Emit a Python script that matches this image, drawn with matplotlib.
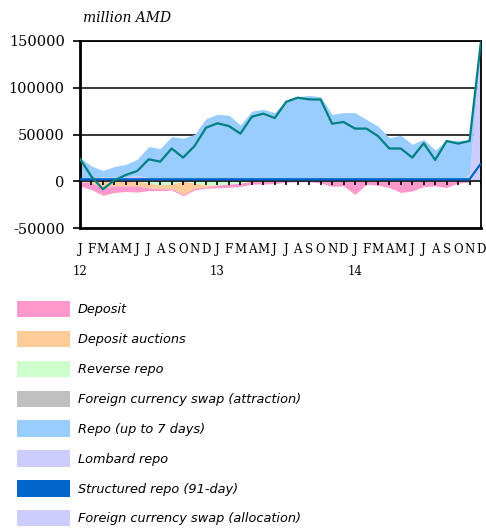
import numpy as np
import matplotlib
matplotlib.use("Agg")
import matplotlib.pyplot as plt
from matplotlib.patches import Patch
from matplotlib.transforms import offset_copy

# monthly operations, Jan 2012 - Dec 2014 (million AMD)
months = ["J", "F", "M", "A", "M", "J", "J", "A", "S", "O", "N", "D"] * 3
years = ["12", "13", "14"]

# liquidity absorption (negative)
deposit = [-5000, -7000, -8000, -7000, -6000, -6500, -3000, -2000, -1500, -1500, -1800, -1500,
           -3000, -3500, -3500, -3000, -3000, -2500, -1000, -500, -500, -2000, -5500, -5000,
           -14000, -3200, -4300, -6700, -12000, -10400, -5700, -5000, -6700, -2000, -700, 0]
deposit_auctions = [0, -2000, -7000, -5000, -5000, -5000, -5000, -4000, -5000, -14000, -5500, -2000,
                    0, 0, 0, 0, 0, 0, 0, 0, 0, 0, 0, 0,
                    0, 0, 0, 0, 0, 0, 0, 0, 0, 0, 0, 0]
reverse_repo = [0, 0, 0, 0, 0, 0, -2000, -4000, -3000, 0, -2000, -4000,
                -4000, -3000, -2000, 0, 0, 0, 0, 0, 0, 0, 0, 0,
                0, 0, 0, 0, 0, 0, 0, 0, 0, 0, 0, 0]
fx_swap_attraction = [0] * 36

# liquidity provision (positive)
structured_repo = [0] * 35 + [17000]
lombard_repo = [1000, 4000, 4500, 4500, 5000, 6000, 4000, 1500, 0, 0, 0, 0,
                0, 0, 0, 0, 0, 1500, 0, 0, 0, 0, 0, 0,
                0, 1500, 1000, 0, 0, 0, 0, 0, 0, 0, 8000, 8000]
fx_swap_allocation = [0] * 35 + [125000]
repo = [24000, 12300, 7200, 11200, 13100, 17500, 33000, 33500, 47700, 46000, 50200, 67000,
        71600, 70600, 60200, 75100, 76900, 71900, 86800, 90400, 91800, 90400, 71600, 73400,
        73400, 64700, 58000, 46600, 49100, 39500, 44900, 33400, 43800, 43800, 35800, 0]

# net position line
net = [24000, 5000, -8500, 1000, 6700, 11000, 23500, 21000, 35000, 25300, 37700, 57300,
       62000, 59000, 51000, 69000, 72300, 67600, 85000, 89400, 87600, 87400, 61600, 63400,
       56300, 56300, 48400, 35000, 35000, 25300, 40600, 22800, 43100, 40300, 43100, 150000]

colors = {
    "Deposit": "#FF99CC",
    "Deposit auctions": "#FFCC99",
    "Reverse repo": "#CCFFCC",
    "Foreign currency swap (attraction)": "#C0C0C0",
    "Repo (up to 7 days)": "#99CCFF",
    "Lombard repo": "#CCCCFF",
    "Structured repo (91-day)": "#0066CC",
    "Foreign currency swap (allocation)": "#CCCCFF",
}

x = np.arange(len(net))

fig = plt.figure(figsize=(4.86, 5.28), dpi=100)
ax = fig.add_axes([80 / 486, 1 - 228 / 528, 401 / 486, 187 / 528])

# gridlines behind everything
for v in [50000, 100000, 150000]:
    ax.axhline(v, color="black", lw=1.1, zorder=0)

# negatives stack downward from zero
base = np.zeros(len(x))
for name, vals in [("Reverse repo", reverse_repo), ("Deposit auctions", deposit_auctions),
                   ("Foreign currency swap (attraction)", fx_swap_attraction), ("Deposit", deposit)]:
    top = base + np.array(vals, dtype=float)
    ax.fill_between(x, base, top, color=colors[name], lw=0, zorder=1)
    base = top

# positives stack upward
base = np.zeros(len(x))
struct_top = base + np.array(structured_repo, dtype=float)
ax.fill_between(x, base, struct_top, color=colors["Lombard repo"], lw=0, zorder=1)
base = struct_top
for name, vals in [("Lombard repo", lombard_repo),
                   ("Foreign currency swap (allocation)", fx_swap_allocation),
                   ("Repo (up to 7 days)", repo)]:
    top = base + np.array(vals, dtype=float)
    ax.fill_between(x, base, top, color=colors[name], lw=0, zorder=1)
    base = top

ax.axhline(0, color="black", lw=1.1, zorder=2)
shifted = offset_copy(ax.transData, fig=fig, x=0, y=2, units="dots")
ax.plot(x, struct_top, color=colors["Structured repo (91-day)"], lw=1.6, zorder=3,
        transform=shifted, solid_capstyle="butt")

# month tick marks on the zero line
ax.vlines(x[1:], -4500, 0, color="black", lw=1.2, zorder=3)

ax.plot(x, net, color="#008080", lw=1.6, zorder=4)

ax.set_xlim(0, len(x) - 1)
ax.set_ylim(-50000, 150000)
ax.set_yticks([-50000, 0, 50000, 100000, 150000])
ax.set_yticklabels(["-50000", "0", "50000", "100000", "150000"],
                   family="DejaVu Serif", fontsize=10.5)
ax.tick_params(axis="y", length=5, width=1.2, pad=6)

labels = []
for i, m in enumerate(months):
    labels.append(m + "\n" + years[i // 12] if i % 12 == 0 else m)
ax.set_xticks(x)
ax.set_xticklabels(labels, family="DejaVu Serif", fontsize=8.5, linespacing=1.9)
ax.tick_params(axis="x", length=0, pad=11)

for side in ["left", "bottom"]:
    ax.spines[side].set_linewidth(2)
for side in ["right", "top"]:
    ax.spines[side].set_linewidth(1.3)

fig.text(83 / 486, 1 - 18 / 528, "million AMD", family="DejaVu Serif", style="italic",
         fontsize=10, va="center", ha="left")

handles = [Patch(facecolor=c, edgecolor="none", label=n) for n, c in colors.items()]
fig.legend(handles=handles, loc="upper left", bbox_to_anchor=(17 / 486, 1 - 301 / 528),
           frameon=False, prop={"family": "DejaVu Sans", "style": "italic", "size": 9.3},
           handlelength=4.1, handleheight=1.58, labelspacing=1.04, handletextpad=0.62,
           borderpad=0, borderaxespad=0)

fig.savefig("out.png", dpi=100)
